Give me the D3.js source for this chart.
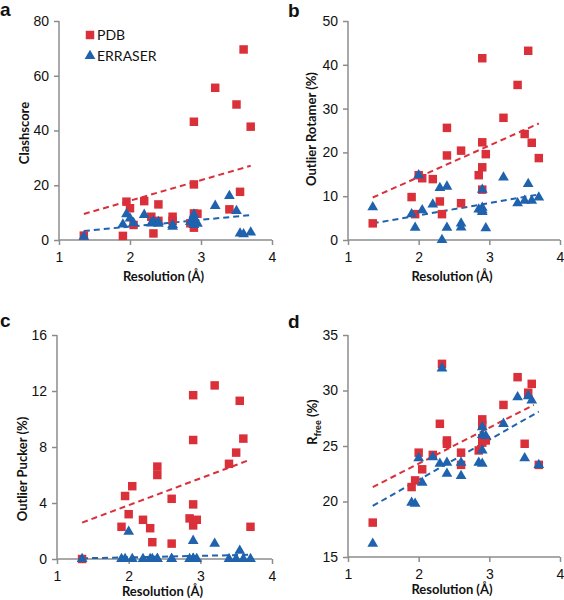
<!DOCTYPE html>
<html>
<head>
<meta charset="utf-8">
<script src="https://cdn.jsdelivr.net/npm/d3@7"></script>
<style>
  html, body { margin: 0; padding: 0; background: #fff; }
  svg { display: block; font-family: Lato, "Open Sans", sans-serif; }
</style>
</head>
<body>
<svg id="chart" width="564" height="600"></svg>
<script>
// ---- data ----
const resolution = [1.35, 1.90, 1.95, 2.00, 2.05, 2.20, 2.30, 2.33, 2.40, 2.40, 2.60, 2.60,
                    2.85, 2.90, 2.90, 2.90, 2.90, 2.95, 3.20, 3.40, 3.50, 3.55, 3.60, 3.70];

const clashPDB     = [1.6, 1.5, 14.0, 11.6, 5.5, 14.2, 8.5, 2.4, 13.0, 7.0, 8.5, 7.0,
                      6.1, 43.2, 20.3, 9.7, 4.5, 9.6, 55.6, 11.2, 49.5, 17.6, 69.6, 41.4];
const clashERRASER = [1.2, 5.7, 9.4, 7.9, 6.2, 9.2, 6.1, 6.9, 6.6, 6.0, 4.9, 5.5,
                      6.6, 7.9, 9.3, 5.5, 6.4, 6.0, 12.5, 16.1, 10.6, 2.4, 2.1, 2.8];

const rotamerPDB     = [3.8, 9.8, 5.9, 14.8, 14.1, 13.9, 8.8, 5.9, 25.6, 19.3, 20.4, 8.4,
                        14.8, 41.5, 22.3, 16.6, 11.5, 19.6, 27.9, 35.4, 24.2, 43.2, 22.2, 18.7];
const rotamerERRASER = [7.5, 5.9, 2.8, 14.8, 6.8, 8.1, 11.9, 0.0, 12.2, 2.8, 3.8, 2.9,
                        7.0, 7.4, 6.4, 11.5, 6.8, 2.7, 14.3, 8.4, 9.0, 12.8, 9.0, 9.7];

const puckerPDB     = [0.0, 2.3, 4.5, 3.2, 5.2, 2.8, 2.2, 1.2, 6.6, 6.0, 4.3, 1.1,
                       2.9, 11.7, 8.5, 3.9, 2.4, 2.8, 12.4, 6.8, 7.6, 11.3, 8.6, 2.3];
const puckerERRASER = [0.0, 0.0, 0.0, 1.95, 0.0, 0.0, 0.0, 0.0, 0.0, 0.0, 0.0, 0.0,
                       0.0, 1.3, 0.0, 0.0, 0.0, 0.0, 1.1, 0.0, 0.0, 0.6, 0.0, 0.0];

const rfreePDB     = [18.1, 21.3, 21.9, 24.4, 22.9, 24.2, 27.0, 32.4, 25.5, 25.2, 24.4, 23.3,
                      24.6, 27.4, 26.9, 25.7, 25.3, 25.5, 28.7, 31.2, 25.2, 29.8, 30.6, 23.3];
const rfreeERRASER = [16.2, 19.9, 19.8, 23.9, 21.7, 24.0, 23.4, 32.0, 23.5, 22.5, 23.5, 22.3,
                      23.5, 26.7, 26.0, 24.6, 23.4, 25.9, 27.0, 29.4, 23.9, 29.5, 29.1, 23.3];

// dashed trend lines as drawn in the figure: [x start, x end] and [y start, y end]
const trendX = [1.35, 3.70];
const trendXd = [1.35, 3.63];
const clashTrendPDB = [9.5, 27.1],   clashTrendERRASER = [3.3, 9.1];
const rotamerTrendPDB = [9.7, 26.6], rotamerTrendERRASER = [3.8, 10.4];
const puckerTrendPDB = [2.6, 7.1],   puckerTrendERRASER = [0.05, 0.3];
const rfreeTrendPDB = [21.3, 28.7],  rfreeTrendERRASER = [19.6, 28.1];

const xTicks = [1, 2, 3, 4];
const seriesNames = ["PDB", "ERRASER"];
const panelLetters = ["a", "b", "c", "d"];
const yTitles = ["Clashscore", "Outlier Rotamer (%)", "Outlier Pucker (%)", "Rfree (%)"];
const yDomains = [[0, 80], [0, 50], [0, 16], [15, 35]];
const yTickSets = [[0, 20, 40, 60, 80], [0, 10, 20, 30, 40, 50], [0, 4, 8, 12, 16], [15, 20, 25, 30, 35]];

// ---- style / layout ----
const RED = "#d9303a", BLUE = "#1f62ae", AXIS = "#8c8c8c";
const panels = [
  { pdb: clashPDB,   err: clashERRASER,   tp: clashTrendPDB,   te: clashTrendERRASER,   tpx: trendX,  tex: trendX,
    x0: 59,  x1: 272, y0: 21,  y1: 240, xt: 41, letter: [0, 16],   yt: [24, 133],  legend: true },
  { pdb: rotamerPDB, err: rotamerERRASER, tp: rotamerTrendPDB, te: rotamerTrendERRASER, tpx: trendX,  tex: trendX,
    x0: 348, x1: 560, y0: 21,  y1: 240, xt: 41, letter: [288, 17], yt: [311, 129] },
  { pdb: puckerPDB,  err: puckerERRASER,  tp: puckerTrendPDB,  te: puckerTrendERRASER,  tpx: trendX,  tex: trendX,
    x0: 57,  x1: 272, y0: 335, y1: 559, xt: 37, letter: [0, 327],  yt: [22, 469] },
  { pdb: rfreePDB,   err: rfreeERRASER,   tp: rfreeTrendPDB,   te: rfreeTrendERRASER,   tpx: trendXd, tex: trendX,
    x0: 348, x1: 560, y0: 335, y1: 557, xt: 37, letter: [288, 328], yt: [312, 422] }
];

const svg = d3.select("#chart");

const sqSym = d3.symbol().type(d3.symbolSquare).size(72);
const triSym = d3.symbol().type(d3.symbolTriangle).size(50);

panels.forEach((p, i) => {
  const g = svg.append("g");
  const x = d3.scaleLinear().domain([1, 4]).range([p.x0, p.x1]);
  const y = d3.scaleLinear().domain(yDomains[i]).range([p.y1, p.y0]);

  const ya = g.append("g").attr("transform", `translate(${p.x0},0)`)
    .call(d3.axisLeft(y).tickValues(yTickSets[i]).tickSize(5).tickPadding(5).tickFormat(d3.format("d")));
  const xa = g.append("g").attr("transform", `translate(0,${p.y1})`)
    .call(d3.axisBottom(x).tickValues(xTicks).tickSize(5).tickPadding(7).tickFormat(d3.format("d")));
  [ya, xa].forEach(a => {
    a.select(".domain").attr("stroke", AXIS).attr("stroke-width", 1.5);
    a.selectAll(".tick line").attr("stroke", AXIS).attr("stroke-width", 1.5);
    a.selectAll(".tick text").attr("fill", "#111").style("font-size", "14px");
  });
  ya.select(".domain").attr("d", `M0,${p.y1}V${p.y0}`);
  xa.select(".domain").attr("d", `M${p.x0},0H${p.x1}`);

  // trendlines
  [{ xs: p.tpx, ys: p.tp, c: RED }, { xs: p.tex, ys: p.te, c: BLUE }].forEach(s => {
    g.append("line")
      .attr("x1", x(s.xs[0])).attr("y1", y(s.ys[0]))
      .attr("x2", x(s.xs[1])).attr("y2", y(s.ys[1]))
      .attr("stroke", s.c).attr("stroke-width", 2).attr("stroke-dasharray", "6,4");
  });

  // markers
  g.append("g").selectAll("path").data(p.pdb).join("path")
    .attr("d", sqSym).attr("fill", RED)
    .attr("transform", (d, j) => `translate(${x(resolution[j])},${y(d)})`);
  g.append("g").selectAll("path").data(p.err).join("path")
    .attr("d", triSym).attr("fill", BLUE)
    .attr("transform", (d, j) => `translate(${x(resolution[j])},${y(d)})`);

  // panel letter
  g.append("text").attr("x", p.letter[0]).attr("y", p.letter[1])
    .text(panelLetters[i]).style("font-family", "Liberation Sans, Arial, sans-serif")
    .style("font-size", "19px").style("font-weight", "bold").attr("fill", "#111");

  // x title
  g.append("text").attr("x", (p.x0 + p.x1) / 2 - 2).attr("y", p.y1 + p.xt)
    .attr("text-anchor", "middle").style("font-size", "13px").style("font-weight", "bold")
    .attr("fill", "#111").text("Resolution (Å)");

  // y title
  const yt = g.append("text")
    .attr("transform", `translate(${p.yt[0] + 5},${p.yt[1]}) rotate(-90)`)
    .attr("text-anchor", "middle").style("font-size", "13px").style("font-weight", "bold")
    .attr("fill", "#111");
  if (i === 3) {
    yt.append("tspan").text("R");
    yt.append("tspan").attr("dy", 4).style("font-size", "9px").text("free");
    yt.append("tspan").attr("dy", -4).text(" (%)");
  } else {
    yt.text(yTitles[i]);
  }

  if (p.legend) {
    const lg = g.append("g");
    lg.append("path").attr("d", sqSym).attr("fill", RED).attr("transform", "translate(90,35)");
    lg.append("text").attr("x", 97).attr("y", 40).style("font-size", "14px").attr("fill", "#111").text(seriesNames[0]);
    lg.append("path").attr("d", triSym).attr("fill", BLUE).attr("transform", "translate(90,56)");
    lg.append("text").attr("x", 97).attr("y", 61).style("font-size", "14px").attr("fill", "#111").text(seriesNames[1]);
  }
});
</script>
</body>
</html>
